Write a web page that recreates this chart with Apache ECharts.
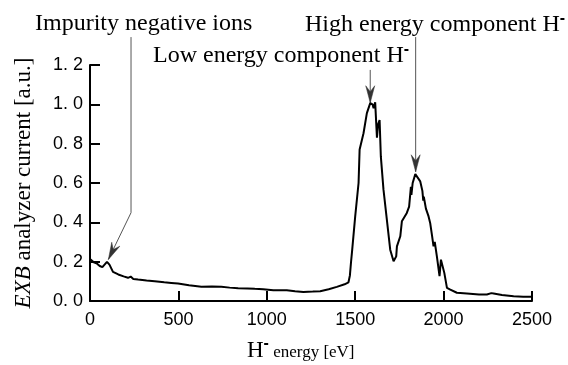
<!DOCTYPE html>
<html>
<head>
<meta charset="utf-8">
<script src="https://cdn.jsdelivr.net/npm/echarts@6/dist/echarts.min.js"></script>
<style>
  html, body { margin: 0; padding: 0; background: #fff; }
  #chart { width: 568px; height: 365px; }
</style>
</head>
<body>
<div id="chart"></div>
<script>
// H- energy [eV]
const energy = [
  0, 10, 25, 40, 55, 70, 80, 96, 110, 130, 160, 190, 215, 230, 245, 272, 320, 366, 420, 460,
  498, 560, 630, 690, 743, 790, 838, 890, 932, 980, 1037, 1113, 1160, 1207, 1260, 1302, 1350, 1396, 1440, 1462,
  1470, 1476, 1483, 1500, 1519, 1525, 1547, 1566, 1585, 1598, 1604, 1613, 1623, 1630, 1638, 1645, 1660, 1679, 1698, 1717,
  1732, 1736, 1755, 1764, 1792, 1805, 1812, 1815, 1818, 1825, 1840, 1848, 1868, 1880, 1885, 1888, 1900, 1915, 1924, 1935,
  1943, 1950, 1962, 1977, 1985, 1990, 2004, 2019, 2038, 2075, 2132, 2200, 2245, 2270, 2283, 2330, 2396, 2450, 2500
];
// EXB analyzer current [a.u.]
const current = [
  0.214, 0.205, 0.195, 0.190, 0.178, 0.172, 0.180, 0.199, 0.185, 0.148, 0.135, 0.125, 0.118, 0.124, 0.112, 0.109, 0.104, 0.100, 0.095, 0.092,
  0.089, 0.080, 0.072, 0.074, 0.072, 0.068, 0.065, 0.064, 0.062, 0.060, 0.055, 0.055, 0.050, 0.046, 0.048, 0.050, 0.060, 0.072, 0.085, 0.095,
  0.130, 0.194, 0.260, 0.430, 0.600, 0.770, 0.853, 0.955, 1.006, 1.000, 0.980, 1.010, 0.830, 0.900, 0.920, 0.735, 0.566, 0.414, 0.261, 0.202,
  0.227, 0.278, 0.329, 0.405, 0.448, 0.480, 0.550, 0.580, 0.540, 0.600, 0.645, 0.640, 0.608, 0.560, 0.510, 0.530, 0.470, 0.430, 0.397, 0.330,
  0.278, 0.300, 0.227, 0.126, 0.210, 0.210, 0.143, 0.067, 0.058, 0.042, 0.038, 0.033, 0.033, 0.040, 0.038, 0.030, 0.024, 0.022, 0.021
];
const xTicks = [0, 500, 1000, 1500, 2000, 2500];
const yTicks = [0.0, 0.2, 0.4, 0.6, 0.8, 1.0, 1.2];

// annotation leader lines in data coordinates (last point is the arrow tip)
const arrowImpurity = [[232, 1.342], [232, 0.449], [104, 0.211]];
const arrowLow = [[1585, 1.175], [1585, 1.008]];
const arrowHigh = [[1842, 1.342], [1842, 0.657]];

const seriesData = energy.map((e, i) => [e, current[i]]);

const chart = echarts.init(document.getElementById('chart'), null, { renderer: 'canvas' });
const sans = 'Liberation Sans';
const serif = 'Liberation Serif';

chart.setOption({
  animation: false,
  backgroundColor: '#fff',
  grid: { left: 90, right: 36, top: 65, bottom: 64, containLabel: false },
  xAxis: {
    type: 'value', min: xTicks[0], max: xTicks[xTicks.length - 1], interval: 500,
    axisLine: { show: true, lineStyle: { color: '#000', width: 2 } },
    axisTick: { show: true, inside: true, length: 10, lineStyle: { color: '#000', width: 2 } },
    splitLine: { show: false },
    axisLabel: { color: '#000', fontFamily: sans, fontSize: 18, margin: 10, formatter: v => String(v) }
  },
  yAxis: {
    type: 'value', min: yTicks[0], max: yTicks[yTicks.length - 1], interval: 0.2,
    axisLine: { show: true, lineStyle: { color: '#000', width: 2 } },
    axisTick: { show: true, inside: true, length: 10, lineStyle: { color: '#000', width: 2 } },
    splitLine: { show: false },
    axisLabel: {
      color: '#000', fontFamily: sans, fontSize: 18, margin: 7,
      formatter: v => v.toFixed(1).replace('.', '. ')
    },
    name: '{i|EXB}{n| analyzer current [a.u.]}',
    nameLocation: 'middle', nameRotate: 90, nameGap: 55,
    nameTextStyle: {
      rich: {
        i: { fontFamily: serif, fontSize: 23, fontStyle: 'italic', color: '#000' },
        n: { fontFamily: serif, fontSize: 23, color: '#000' }
      }
    }
  },
  series: [{
    type: 'line',
    data: seriesData,
    showSymbol: false,
    symbol: 'none',
    lineStyle: { color: '#000', width: 2 }
  }]
});

function leader(points, id) {
  const px = points.map(p => chart.convertToPixel({ gridIndex: 0 }, p));
  const tip = px[px.length - 1];
  const prev = px[px.length - 2];
  let dx = tip[0] - prev[0], dy = tip[1] - prev[1];
  const len = Math.hypot(dx, dy);
  dx /= len; dy /= len;
  const L = 17, W = 9;
  const bx = tip[0] - dx * L, by = tip[1] - dy * L;
  const nx = -dy, ny = dx;
  const notch = [tip[0] - dx * L * 0.65, tip[1] - dy * L * 0.65];
  return [
    { type: 'polyline', id: id + 'l', shape: { points: px }, style: { stroke: '#555', lineWidth: 1, fill: null }, silent: true },
    {
      type: 'polygon', id: id + 'a', silent: true,
      shape: { points: [tip, [bx + nx * W / 2, by + ny * W / 2], notch, [bx - nx * W / 2, by - ny * W / 2]] },
      style: { fill: '#333', stroke: '#333', lineWidth: 0.5 }
    }
  ];
}

const supStyle = { fontFamily: sans, fontSize: 16, fontWeight: 'bold', fill: '#000', verticalAlign: 'bottom', padding: [0, 0, 10, 0] };

chart.setOption({
  graphic: [
    ...leader(arrowImpurity, 'imp'),
    ...leader(arrowLow, 'low'),
    ...leader(arrowHigh, 'high'),
    {
      type: 'text', x: 35, y: 24,
      style: { text: 'Impurity negative ions', font: '24px "Liberation Serif"', fill: '#000', verticalAlign: 'middle' }
    },
    {
      type: 'text', x: 153, y: 55,
      style: {
        text: '{a|Low energy component H}{s|-}', fill: '#000', verticalAlign: 'middle',
        rich: { a: { fontFamily: serif, fontSize: 24, fill: '#000', verticalAlign: 'bottom' }, s: supStyle }
      }
    },
    {
      type: 'text', x: 305, y: 24,
      style: {
        text: '{a|High energy component H}{s|-}', fill: '#000', verticalAlign: 'middle',
        rich: { a: { fontFamily: serif, fontSize: 24, fill: '#000', verticalAlign: 'bottom' }, s: supStyle }
      }
    },
    {
      type: 'text', x: 247, y: 349,
      style: {
        text: '{h|H}{s|-}{e| energy [eV]}', fill: '#000', verticalAlign: 'middle',
        rich: {
          h: { fontFamily: serif, fontSize: 23, fill: '#000', verticalAlign: 'bottom' },
          s: supStyle,
          e: { fontFamily: serif, fontSize: 17, fill: '#000', verticalAlign: 'bottom', padding: [0, 0, 1, 0] }
        }
      }
    }
  ]
});
</script>
</body>
</html>
